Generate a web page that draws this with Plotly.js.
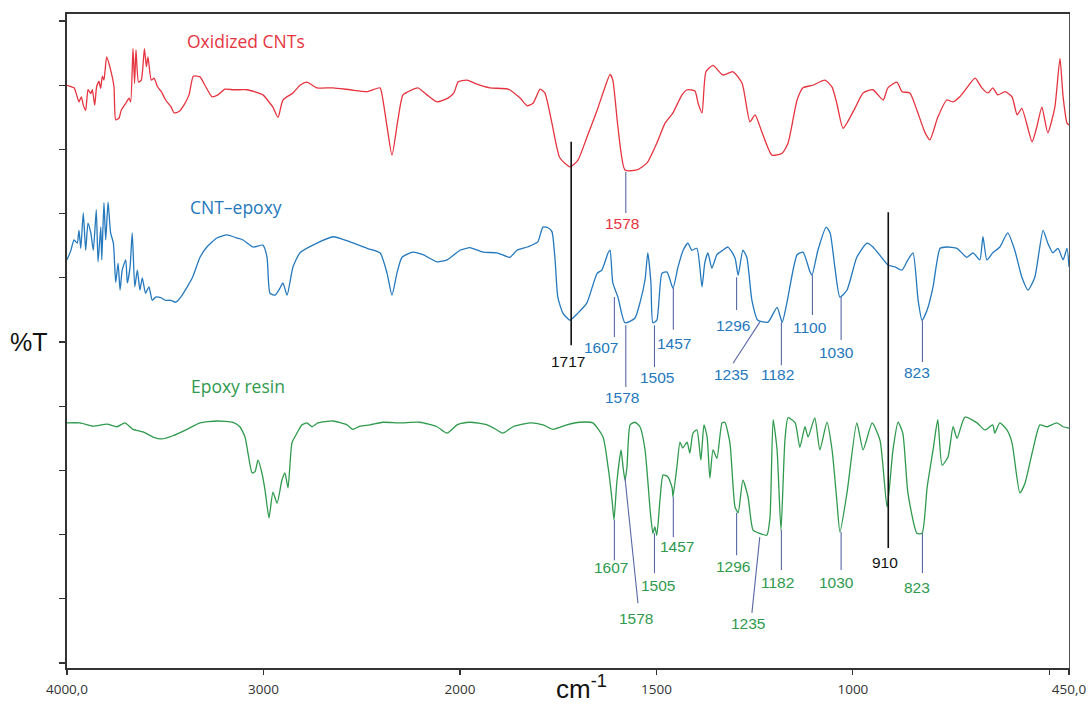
<!DOCTYPE html>
<html>
<head>
<meta charset="utf-8">
<script src="https://cdn.plot.ly/plotly-3.0.1.min.js"></script>
<style>html,body{margin:0;padding:0;background:#fff;}#chart{width:1088px;height:707px;}</style>
</head>
<body>
<div id="chart"></div>
<script>
// ---- Data: wavenumber (cm-1) and offset %T for each spectrum ----
const oxWn = [4000,3981,3964,3951,3939,3927,3917,3905,3893,3879,3871,3859,3849,3837,3829,3820,3812,3798,3778,3761,3752,3735,3724,3701,3684,3676,3664,3656,3649,3636,3622,3606,3596,3588,3571,3557,3540,3520,3498,3472,3455,3430,3405,3379,3357,3323,3298,3262,3232,3196,3155,3120,3084,3003,2967,2952,2926,2901,2850,2814,2779,2728,2646,2560,2473,2407,2392,2371,2346,2316,2290,2244,2214,2168,2117,2061,2031,2010,1982,1962,1924,1878,1847,1829,1814,1796,1784,1766,1746,1720,1700,1677,1651,1631,1618,1611,1598,1580,1550,1524,1499,1478,1458,1435,1422,1402,1394,1384,1374,1356,1331,1305,1282,1262,1249,1231,1206,1180,1165,1142,1127,1102,1071,1053,1041,1025,995,974,949,923,911,888,875,855,837,817,804,784,761,745,728,710,689,672,656,644,631,613,595,582,570,544,532,519,504,486,473,465,455,450];
const oxT = [90.0,89.8,89.6,88.5,87.4,88.2,86.9,86.1,89.3,88.7,89.3,86.9,89.8,90.6,89.5,91.4,90.8,94.4,92.4,89.8,84.6,84.9,86.1,87.2,88.0,87.4,95.7,90.3,95.5,90.5,90.8,95.7,92.9,94.4,90.8,91.1,89.8,89.0,87.7,86.7,85.7,85.9,86.9,88.5,91.4,91.3,90.0,88.2,88.5,89.4,89.3,89.3,89.3,88.5,87.2,86.6,85.0,87.7,88.8,90.0,90.5,89.6,89.6,89.3,89.0,89.6,87.7,83.5,79.1,84.6,88.5,89.3,89.6,88.5,87.4,88.0,88.8,90.5,90.8,90.3,89.6,89.4,88.0,86.8,87.2,89.4,88.8,84.1,78.7,77.3,78.3,81.9,86.1,89.7,91.7,90.8,83.5,76.8,76.8,77.9,81.0,84.1,85.7,88.5,89.3,89.1,87.2,85.7,92.1,93.1,91.6,92.1,90.3,84.3,85.4,82.6,79.1,79.4,81.0,87.7,89.6,90.0,90.8,89.7,87.2,83.3,86.4,88.8,89.3,87.7,89.6,90.5,89.0,88.8,86.1,82.7,81.5,85.0,87.7,87.4,88.2,89.6,91.1,89.6,88.8,89.6,88.5,89.0,88.2,85.4,86.4,81.2,83.5,86.6,82.6,86.6,94.2,88.2,84.1,83.8];

const cntWn = [4000,3981,3964,3948,3939,3930,3917,3905,3893,3879,3866,3851,3842,3828,3823,3812,3803,3791,3778,3764,3752,3740,3730,3719,3701,3693,3679,3668,3655,3642,3629,3617,3600,3583,3566,3549,3523,3498,3472,3447,3421,3388,3362,3323,3288,3237,3186,3135,3104,3053,3003,2982,2967,2941,2916,2901,2880,2850,2814,2728,2646,2560,2473,2407,2371,2346,2321,2295,2239,2188,2117,2066,2000,1975,1941,1906,1873,1855,1829,1802,1789,1776,1766,1758,1751,1738,1720,1700,1677,1651,1639,1623,1618,1611,1598,1580,1555,1542,1529,1522,1514,1509,1499,1486,1473,1458,1445,1432,1420,1410,1397,1384,1377,1369,1359,1346,1331,1318,1300,1292,1280,1270,1257,1242,1216,1193,1180,1168,1142,1127,1109,1104,1089,1068,1058,1046,1033,1015,990,964,949,926,911,893,875,860,847,834,824,811,796,778,761,735,710,694,677,669,659,644,626,606,588,570,554,537,516,504,491,478,465,455,450];
const cntT = [62.8,64.2,65.9,65.4,67.4,64.6,70.1,64.3,68.5,67.0,64.3,70.6,62.5,67.9,62.8,71.7,65.9,71.8,67.0,65.4,59.3,62.3,58.1,61.2,62.8,59.2,61.7,67.0,58.6,61.2,58.1,60.0,57.6,58.6,56.5,57.0,56.9,56.5,56.5,56.2,57.0,58.6,60.0,63.2,64.8,66.2,66.7,66.2,65.9,64.8,65.1,63.2,57.6,57.3,58.4,59.2,57.3,61.7,63.9,65.4,66.4,65.6,64.6,63.9,60.7,57.3,60.7,63.2,64.0,63.6,62.5,62.8,64.3,64.7,64.0,63.9,63.2,64.3,64.8,65.6,67.9,67.8,67.2,62.8,57.0,54.5,53.4,54.5,56.1,60.7,61.2,63.9,64.3,59.2,57.0,53.0,53.7,56.1,59.7,63.9,59.2,53.0,53.4,60.7,60.9,58.4,61.7,64.3,65.4,64.3,64.6,58.6,62.3,63.9,61.5,63.6,64.3,64.8,63.1,60.4,64.3,63.2,56.5,53.4,53.1,55.4,53.1,56.1,63.6,64.0,60.9,60.4,64.3,67.9,67.0,61.7,57.0,58.1,63.2,65.4,64.8,63.1,62.0,61.7,61.2,62.8,63.9,56.5,53.4,55.0,58.6,64.6,64.8,64.6,63.2,63.9,62.8,66.4,62.8,63.9,64.8,67.0,64.3,60.1,58.1,60.1,67.4,65.4,63.9,64.6,62.8,64.6,61.7];

const epWn = [4000,3934,3868,3796,3746,3705,3664,3613,3562,3517,3461,3389,3323,3237,3155,3120,3094,3079,3058,3043,3028,3008,2992,2972,2952,2931,2906,2891,2875,2855,2830,2804,2779,2753,2723,2646,2575,2545,2509,2458,2392,2305,2204,2117,2066,2015,1975,1931,1906,1891,1865,1822,1789,1763,1728,1695,1662,1636,1623,1613,1608,1601,1590,1585,1580,1575,1567,1555,1542,1529,1516,1509,1504,1499,1491,1483,1471,1460,1458,1448,1440,1433,1422,1415,1407,1397,1387,1379,1371,1364,1356,1346,1333,1326,1313,1300,1292,1280,1267,1254,1237,1219,1211,1203,1193,1183,1173,1165,1147,1135,1122,1114,1097,1084,1066,1053,1041,1033,1015,990,974,951,931,913,898,885,873,860,837,824,811,796,784,773,758,745,735,715,684,664,644,639,626,608,595,575,562,542,524,506,481,465,450];
const epT = [37.4,37.4,36.9,37.2,36.8,37.4,36.4,36.0,35.2,34.9,35.4,36.4,37.4,37.7,37.5,36.8,35.2,32.7,29.6,29.8,31.6,29.6,26.9,22.6,26.6,24.9,28.5,29.6,27.3,34.3,35.8,37.1,37.4,36.8,37.4,37.7,37.1,36.4,36.9,37.1,37.5,37.4,37.5,36.8,35.8,37.1,37.5,37.1,36.3,35.8,36.8,37.4,37.1,36.4,37.1,37.5,37.4,35.2,30.5,25.4,22.3,28.0,33.2,30.5,28.5,30.5,37.1,37.5,36.8,33.2,23.8,20.2,21.2,19.9,25.4,29.3,29.0,27.3,25.9,30.5,34.4,33.5,34.4,32.7,35.8,36.3,31.6,37.1,35.2,28.8,33.2,31.9,37.4,37.5,34.3,24.3,23.4,28.5,25.9,20.7,20.2,19.9,22.7,37.9,33.2,20.7,34.7,38.2,37.4,33.6,36.8,35.2,38.2,33.2,37.5,33.2,25.4,20.4,26.5,37.4,33.2,37.4,34.7,24.3,33.2,37.5,35.8,26.5,20.2,20.2,27.4,33.2,37.9,30.8,32.1,36.8,35.0,38.3,37.4,36.3,37.1,35.8,37.4,36.3,34.3,26.5,28.0,33.2,37.1,36.8,37.4,36.8,36.6];

const seriesNames = ['Oxidized CNTs', 'CNT\u2013epoxy', 'Epoxy resin'];
const xTickVals1 = [4000, 3000, 2000];
const xTickText1 = ['4000,0', '3000', '2000'];
const xTickVals2 = [1500, 1000, 450];
const xTickText2 = ['1500', '1000', '450,0'];
const xMinorTickVals2 = [500];
const yTickVals = [0,10,20,30,40,50,60,70,80,90,100];

// ---- Styles ----
const RED = '#e5343f', BLUE = '#2478bd', GREEN = '#2f9a4e', SLATE = '#5867a6', BLACK = '#111111';
const BREAK = 2000;

// split a spectrum at the axis break (4000-2000 compressed, 2000-450 expanded)
function splitAtBreak(wn, t) {
  const L = {x: [], y: []}, R = {x: [], y: []};
  for (let i = 0; i < wn.length; i++) {
    if (wn[i] >= BREAK) { L.x.push(wn[i]); L.y.push(t[i]); }
    if (wn[i] <= BREAK) { R.x.push(wn[i]); R.y.push(t[i]); }
  }
  // carry one neighbour across the break so the segments join (clipped by subplot)
  const firstRight = wn.findIndex(w => w < BREAK);
  if (firstRight > 0) {
    L.x.push(wn[firstRight]); L.y.push(t[firstRight]);
    R.x.unshift(wn[firstRight - 1]); R.y.unshift(t[firstRight - 1]);
  }
  return [L, R];
}

const traces = [];
[[oxWn, oxT, RED], [cntWn, cntT, BLUE], [epWn, epT, GREEN]].forEach(([w, t, c], k) => {
  const [L, R] = splitAtBreak(w, t);
  const line = {color: c, width: 1.3, shape: 'spline', smoothing: 0.55};
  traces.push({x: L.x, y: L.y, xaxis: 'x', yaxis: 'y', type: 'scatter', mode: 'lines',
    name: seriesNames[k], line: line, hoverinfo: 'skip'});
  traces.push({x: R.x, y: R.y, xaxis: 'x2', yaxis: 'y2', type: 'scatter', mode: 'lines',
    name: seriesNames[k], line: line, hoverinfo: 'skip', showlegend: false});
});

// ---- Peak markers: [label, text colour, line colour, line x0,y0,x1,y1, label x,y] ----
const peaks = [
  ['1717', BLACK, BLACK, 1717, 81.2, 1717, 49.5, 1725, 46.9],
  ['910',  BLACK, BLACK, 910, 70.2, 910, 17.9, 918, 15.7],
  ['1578', RED, SLATE, 1578, 76.5, 1578, 70.1, 1588, 68.5],
  ['1607', BLUE, SLATE, 1607, 57.0, 1607, 50.8, 1641, 49.2],
  ['1578', BLUE, SLATE, 1578, 52.6, 1578, 43.0, 1588, 41.3],
  ['1505', BLUE, SLATE, 1505, 52.6, 1505, 46.1, 1499, 44.4],
  ['1457', BLUE, SLATE, 1457, 58.4, 1457, 51.9, 1455, 49.7],
  ['1296', BLUE, SLATE, 1296, 60.1, 1296, 55.0, 1305, 52.6],
  ['1235', BLUE, SLATE, 1237, 53.1, 1305, 46.7, 1310, 45.0],
  ['1182', BLUE, SLATE, 1182, 53.1, 1182, 46.4, 1191, 44.9],
  ['1100', BLUE, SLATE, 1103, 60.4, 1103, 54.2, 1109, 52.2],
  ['1030', BLUE, SLATE, 1030, 57.0, 1030, 50.3, 1041, 48.4],
  ['823',  BLUE, SLATE, 823, 53.4, 823, 46.9, 837, 45.2],
  ['1607', GREEN, SLATE, 1607, 22.3, 1607, 16.0, 1616, 14.8],
  ['1578', GREEN, SLATE, 1580, 28.8, 1547, 9.3, 1552, 7.0],
  ['1505', GREEN, SLATE, 1505, 20.2, 1505, 14.0, 1496, 12.0],
  ['1457', GREEN, SLATE, 1457, 25.9, 1457, 19.6, 1448, 18.1],
  ['1296', GREEN, SLATE, 1296, 23.4, 1296, 16.8, 1305, 15.0],
  ['1235', GREEN, SLATE, 1237, 19.6, 1257, 7.8, 1267, 6.2],
  ['1182', GREEN, SLATE, 1182, 20.7, 1182, 14.5, 1191, 12.6],
  ['1030', GREEN, SLATE, 1030, 20.4, 1030, 14.5, 1041, 12.5],
  ['823',  GREEN, SLATE, 823, 20.2, 823, 14.0, 837, 11.8]
];

const shapes = [];
const annotations = [];
peaks.forEach(p => {
  const black = p[2] === BLACK;
  shapes.push({type: 'line', xref: 'x2', yref: 'y2', x0: p[3], y0: p[4], x1: p[5], y1: p[6],
    line: {color: p[2], width: black ? 1.6 : 1.1}});
  annotations.push({xref: 'x2', yref: 'y2', x: p[7], y: p[8], text: p[0], showarrow: false,
    xanchor: 'center', yanchor: 'middle',
    font: {family: 'Liberation Sans, Arial, sans-serif', size: 15.5, color: p[1]}});
});

// series names
[[seriesNames[0], 3089, 96.9, RED], [seriesNames[1], 3140, 71.0, BLUE], [seriesNames[2], 3130, 43.1, GREEN]]
  .forEach(([txt, x, y, c]) => annotations.push({xref: 'x', yref: 'y', x: x, y: y, text: txt,
    showarrow: false, xanchor: 'center', yanchor: 'middle',
    font: {family: 'Open Sans, sans-serif', size: 17.5, color: c}}));

// axis titles
annotations.push({xref: 'paper', yref: 'paper', x: -0.038, y: 0.4985, text: '%T', showarrow: false,
  xanchor: 'center', yanchor: 'middle', font: {family: 'Liberation Sans, Arial, sans-serif', size: 25, color: '#111'}});
annotations.push({xref: 'paper', yref: 'paper', x: 0.513, y: -0.058, text: 'cm<sup>-1</sup>', showarrow: false,
  xanchor: 'center', yanchor: 'bottom', font: {family: 'Liberation Sans, Arial, sans-serif', size: 26, color: '#111'}});

const xCommon = {
  showline: true, linecolor: '#333', linewidth: 1.6, mirror: true,
  ticks: 'outside', ticklen: 5, tickwidth: 1.2, tickcolor: '#333',
  tickfont: {family: 'Open Sans, sans-serif', size: 13.5, color: '#333'},
  showgrid: false, zeroline: false, ticklabelstandoff: 3, fixedrange: true
};
const yRange = [-0.78, 101.1];

const layout = {
  width: 1088, height: 707,
  margin: {l: 67, r: 19, t: 14, b: 39, pad: 0},
  paper_bgcolor: '#ffffff', plot_bgcolor: '#ffffff',
  showlegend: false,
  xaxis: Object.assign({}, xCommon, {domain: [0, 0.3922], range: [4000, BREAK], anchor: 'y',
    tickmode: 'array', tickvals: xTickVals1, ticktext: xTickText1}),
  xaxis2: Object.assign({}, xCommon, {domain: [0.3922, 1], range: [BREAK, 450], anchor: 'y2',
    tickmode: 'array', tickvals: xTickVals2, ticktext: xTickText2,
    minor: {tickmode: 'array', tickvals: xMinorTickVals2, ticks: 'outside', ticklen: 5, tickwidth: 1.2, tickcolor: '#333', showgrid: false}}),
  yaxis: {range: yRange, anchor: 'x', showline: true, linecolor: '#333', linewidth: 2,
    ticks: 'outside', ticklen: 6, tickwidth: 1.2, tickcolor: '#333', tickmode: 'array', tickvals: yTickVals,
    showticklabels: false, showgrid: false, zeroline: false, fixedrange: true},
  yaxis2: {range: yRange, anchor: 'x2', side: 'right', showline: true, linecolor: '#555', linewidth: 1.4,
    ticks: '', showticklabels: false, showgrid: false, zeroline: false, fixedrange: true},
  shapes: shapes,
  annotations: annotations
};

Plotly.newPlot('chart', traces, layout, {displayModeBar: false, staticPlot: true});
</script>
</body>
</html>
